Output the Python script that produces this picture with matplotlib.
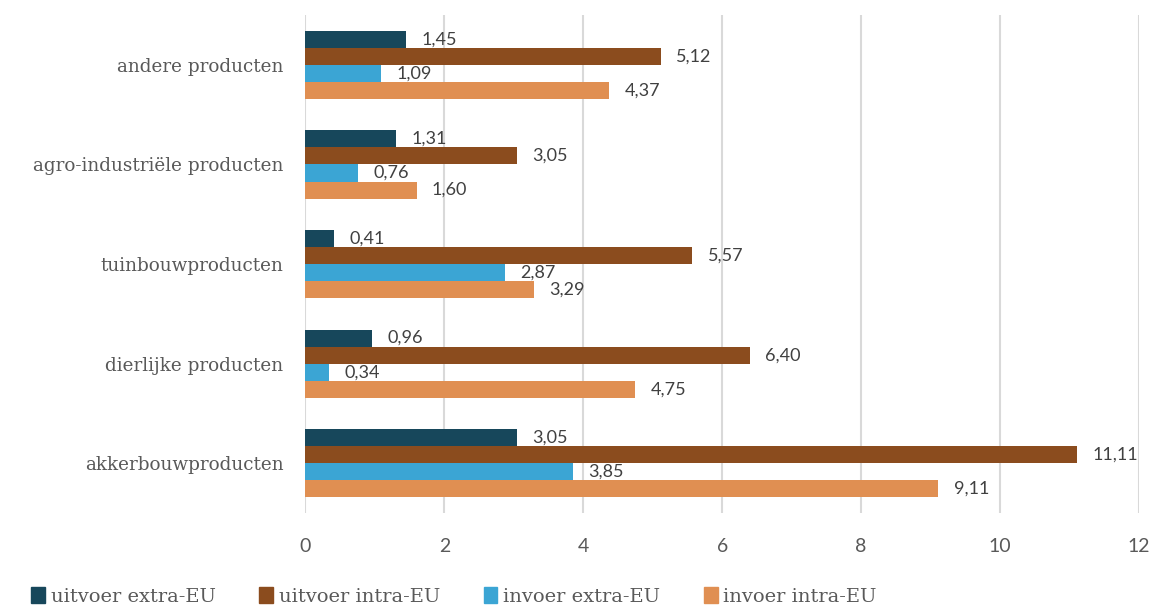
import numpy as np
import matplotlib.pyplot as plt
from matplotlib.patches import Patch

categories = ['akkerbouwproducten', 'dierlijke producten', 'tuinbouwproducten',
              'agro-industriële producten', 'andere producten']
uitvoer_extra = [3.05, 0.96, 0.41, 1.31, 1.45]
uitvoer_intra = [11.11, 6.40, 5.57, 3.05, 5.12]
invoer_extra = [3.85, 0.34, 2.87, 0.76, 1.09]
invoer_intra = [9.11, 4.75, 3.29, 1.60, 4.37]
series_names = ['uitvoer extra-EU', 'uitvoer intra-EU', 'invoer extra-EU', 'invoer intra-EU']

colors = ['#17475b', '#8b4c1e', '#3ba5d4', '#e08f52']
series = [uitvoer_extra, uitvoer_intra, invoer_extra, invoer_intra]

fig = plt.figure(figsize=(11.51, 6.05), dpi=100)
ax = fig.add_axes([0.2654, 0.152, 0.7242, 0.823])

y = np.arange(len(categories))
h = 0.171
offsets = [1.5 * h, 0.5 * h, -0.5 * h, -1.5 * h]
for vals, col, off in zip(series, colors, offsets):
    ax.barh(y + off, vals, height=h, color=col, zorder=3)
    for yi, v in zip(y, vals):
        ax.text(v + 0.22, yi + off, f'{v:.2f}'.replace('.', ','), va='center', ha='left',
                fontsize=13, color='#404040', family='Lato', zorder=4)

ax.set_xlim(0, 12)
ax.set_ylim(-0.5, 4.5)
ax.set_xticks(range(0, 13, 2))
ax.set_yticks(y)
ax.set_yticklabels(categories, family='DejaVu Serif', fontsize=13.2, color='#595959')
for lbl in ax.get_xticklabels():
    lbl.set_family('Lato')
    lbl.set_fontsize(14)
    lbl.set_color('#595959')
ax.tick_params(axis='both', length=0)
ax.tick_params(axis='x', pad=18)
ax.tick_params(axis='y', pad=16)
ax.grid(axis='x', color='#d9d9d9', linewidth=1.5, zorder=0)
for s in ax.spines.values():
    s.set_visible(False)

handles = [Patch(color=c, label=n) for c, n in zip(colors, series_names)]
fig.legend(handles=handles, loc='lower left', bbox_to_anchor=(0.012, -0.03), ncol=4,
           frameon=False, handlelength=0.7, handleheight=0.9, handletextpad=0.3,
           columnspacing=2.25, prop={'family': 'DejaVu Serif', 'size': 14})
for t in fig.legends[0].get_texts():
    t.set_color('#595959')

fig.savefig('out.png', dpi=100)
